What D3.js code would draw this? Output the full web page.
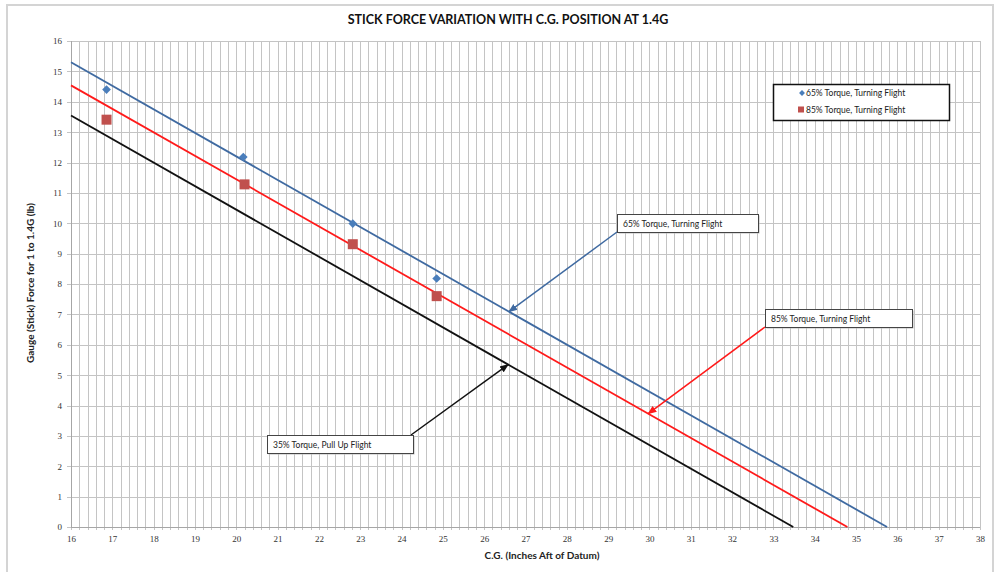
<!DOCTYPE html>
<html><head><meta charset="utf-8">
<script src="https://cdn.jsdelivr.net/npm/d3@7"></script>
<style>body{margin:0;background:#fff;} svg{display:block;}</style>
</head><body>
<script>
// ---- data ----
const xTicks = d3.range(16, 39, 1);
const yTicks = d3.range(0, 17, 1);
const cg65 = [16.86, 20.17, 22.82, 24.85];
const force65 = [14.40, 12.18, 9.99, 8.18];
const cg85 = [16.86, 20.20, 22.82, 24.85];
const force85 = [13.41, 11.28, 9.31, 7.60];
const lineNames = ["65% Torque, Turning Flight", "85% Torque, Turning Flight", "35% Torque, Pull Up Flight"];
const lineStartCG = [16, 16, 16];
const lineStartForce = [15.30, 14.54, 13.55];
const lineEndCG = [35.75, 34.79, 33.48];
const lineEndForce = [0, 0, 0];
const annotTargetCG = [26.6, 29.97, 26.58];
const legendNames = ["65% Torque, Turning Flight", "85% Torque, Turning Flight"];

(function () {
const W = 995, H = 572;
const svg = d3.select("body").append("svg").attr("width", W).attr("height", H);
const pL = 71, pR = 980, pT = 41, pB = 527;
const x = d3.scaleLinear().domain([16, 38]).range([pL, pR]);
const y = d3.scaleLinear().domain([0, 16]).range([pB, pT]);

// outer border
svg.append("rect").attr("x", 7).attr("y", 5).attr("width", W - 9).attr("height", H - 4)
  .attr("fill", "none").attr("stroke", "#d4d4d4").attr("stroke-width", 2);

// title
svg.append("text").attr("x", 508).attr("y", 24).attr("text-anchor", "middle")
  .attr("font-family", "Lato, 'Open Sans', sans-serif").attr("font-weight", "bold").attr("font-size", 12.5)
  .attr("fill", "#111").text("STICK FORCE VARIATION WITH C.G. POSITION AT 1.4G");

// gridlines
const g = svg.append("g");
const minorX = d3.range(16, 38.001, 0.2);
g.selectAll(".vx").data(minorX).join("line")
  .attr("x1", d => Math.round(x(d)) + 0.5).attr("x2", d => Math.round(x(d)) + 0.5)
  .attr("y1", pT).attr("y2", pB + 3)
  .attr("stroke", "#c4c4c4").attr("stroke-width", 1);
g.selectAll(".hy").data(yTicks).join("line")
  .attr("x1", pL - 4).attr("x2", pR)
  .attr("y1", d => Math.round(y(d)) + 0.5).attr("y2", d => Math.round(y(d)) + 0.5)
  .attr("stroke", "#c4c4c4").attr("stroke-width", 1);
// axis lines
svg.append("line").attr("x1", pL + 0.5).attr("x2", pL + 0.5).attr("y1", pT).attr("y2", pB)
  .attr("stroke", "#a6a6a6");
svg.append("line").attr("x1", pL).attr("x2", pR).attr("y1", pB + 0.5).attr("y2", pB + 0.5)
  .attr("stroke", "#a6a6a6");

// axes (labels via d3 axes)
const xAxis = svg.append("g").attr("transform", `translate(0,${pB + 6})`)
  .call(d3.axisBottom(x).tickValues(xTicks).tickSize(0).tickPadding(3).tickFormat(d3.format("d")));
const yAxis = svg.append("g").attr("transform", `translate(${pL - 6},0)`)
  .call(d3.axisLeft(y).tickValues(yTicks).tickSize(0).tickPadding(3).tickFormat(d3.format("d")));
[xAxis, yAxis].forEach(a => {
  a.select(".domain").remove();
  a.selectAll("text").attr("font-family", "'Liberation Serif', serif").attr("font-size", 9).attr("fill", "#333");
});

// axis titles
svg.append("text").attr("x", 542).attr("y", 559).attr("text-anchor", "middle")
  .attr("font-family", "Lato, 'Open Sans', sans-serif").attr("font-weight", "bold").attr("font-size", 10)
  .attr("fill", "#222").text("C.G. (Inches Aft of Datum)");
svg.append("text").attr("transform", "translate(34,283) rotate(-90)").attr("text-anchor", "middle")
  .attr("font-family", "Lato, 'Open Sans', sans-serif").attr("font-weight", "bold").attr("font-size", 10)
  .attr("fill", "#222").text("Gauge (Stick) Force for 1 to 1.4G (lb)");

// trend lines
const lineColors = ["#3f6aa1", "#ff1a1a", "#111111"];
const lines = lineNames.map((n, i) => ({
  name: n, color: lineColors[i],
  pts: [[lineStartCG[i], lineStartForce[i]], [lineEndCG[i], lineEndForce[i]]]
}));
const lineGen = d3.line().x(d => x(d[0])).y(d => y(d[1]));
svg.selectAll(".tl").data(lines).join("path")
  .attr("d", d => lineGen(d.pts)).attr("stroke", d => d.color).attr("stroke-width", 1.8).attr("fill", "none");

// markers
const pts65 = cg65.map((c, i) => [c, force65[i]]);
const pts85 = cg85.map((c, i) => [c, force85[i]]);
svg.selectAll(".m85").data(pts85).join("rect")
  .attr("x", d => x(d[0]) - 5).attr("y", d => y(d[1]) - 5).attr("width", 10).attr("height", 10)
  .attr("fill", "#c0504d");
svg.selectAll(".m65").data(pts65).join("path")
  .attr("transform", d => `translate(${x(d[0])},${y(d[1])})`)
  .attr("d", d3.symbol(d3.symbolDiamond2, 48)).attr("fill", "#4a7ebb");

// annotations
const defs = svg.append("defs");
lineColors.forEach((c, i) => {
  defs.append("marker").attr("id", "ah" + i).attr("viewBox", "0 0 10 10").attr("refX", 9).attr("refY", 5)
    .attr("markerWidth", 6).attr("markerHeight", 6).attr("orient", "auto")
    .append("path").attr("d", "M0,1 L10,5 L0,9 z").attr("fill", c);
});
const boxes = [
  {x0: 617, y0: 214, w: 141, h: 18, ax: 617, ay: 232},
  {x0: 765, y0: 309, w: 147, h: 18, ax: 765, ay: 327},
  {x0: 267, y0: 435, w: 146, h: 18, ax: 411, ay: 435}
];
lines.forEach((l, i) => {
  const b = boxes[i];
  const tc = annotTargetCG[i];
  const slope = (l.pts[1][1] - l.pts[0][1]) / (l.pts[1][0] - l.pts[0][0]);
  const tv = l.pts[0][1] + slope * (tc - l.pts[0][0]);
  svg.append("line").attr("x1", b.ax).attr("y1", b.ay).attr("x2", x(tc)).attr("y2", y(tv))
    .attr("stroke", l.color).attr("stroke-width", 1.5).attr("marker-end", `url(#ah${i})`);
  svg.append("rect").attr("x", b.x0 + 1.5).attr("y", b.y0 + 1.5).attr("width", b.w).attr("height", b.h)
    .attr("fill", "#bbb");
  svg.append("rect").attr("x", b.x0 + 0.5).attr("y", b.y0 + 0.5).attr("width", b.w).attr("height", b.h)
    .attr("fill", "#fff").attr("stroke", "#444").attr("stroke-width", 1);
  svg.append("text").attr("x", b.x0 + 6).attr("y", b.y0 + 12.5)
    .attr("font-family", "Lato, 'Open Sans', sans-serif").attr("font-size", 8.5).attr("fill", "#222")
    .text(l.name);
});

// legend
const lg = svg.append("g");
lg.append("rect").attr("x", 773.5).attr("y", 84.5).attr("width", 176).attr("height", 36)
  .attr("fill", "#fff").attr("stroke", "#111").attr("stroke-width", 1.5);
lg.append("path").attr("transform", "translate(802,93)").attr("d", d3.symbol(d3.symbolDiamond2, 22)).attr("fill", "#4a7ebb");
lg.append("rect").attr("x", 798).attr("y", 106.5).attr("width", 6).attr("height", 6).attr("fill", "#c0504d");
legendNames.forEach((n, i) => {
  lg.append("text").attr("x", 806).attr("y", 96 + i * 16.5)
    .attr("font-family", "Lato, 'Open Sans', sans-serif").attr("font-size", 8.5).attr("fill", "#222").text(n);
});
})();
</script>
</body></html>
